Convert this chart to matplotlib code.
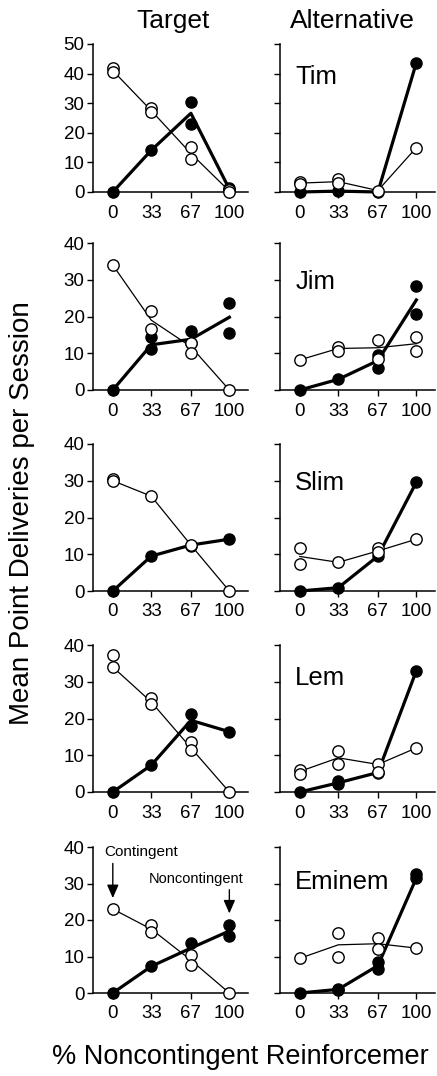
import matplotlib
matplotlib.use("Agg")
import matplotlib.pyplot as plt

plt.rcParams['font.family'] = ['Liberation Sans', 'DejaVu Sans']

# x positions (% noncontingent reinforcement)
pct = [0, 33, 67, 100]
names = ['Tim', 'Jim', 'Slim', 'Lem', 'Eminem']
ytops = [50, 40, 40, 40, 40]

# ---- Target panels ----
# open circles: individual points (x, y) and mean line
tgt_open_x = [
    [0, 0, 33, 33, 67, 67, 100, 100],
    [0, 33, 33, 67, 67, 100],
    [0, 0, 33, 67, 100],
    [0, 0, 33, 33, 67, 67, 100],
    [0, 33, 33, 67, 67, 100],
]
tgt_open_y = [
    [42, 40.5, 28.3, 27, 15.3, 11.3, 0.6, 0],
    [34, 21.5, 16.6, 12.7, 10.2, 0],
    [30.5, 30, 25.8, 12.5, 0],
    [37.2, 34, 25.5, 24, 13.6, 11.4, 0],
    [22.9, 18.5, 16.7, 10.4, 7.6, 0],
]
tgt_open_line = [
    [41, 27.5, 13, 0.3],
    [34, 19, 11.8, 0],
    [30, 25.8, 12.5, 0],
    [34, 24.5, 12, 0],
    [23, 17.5, 9, 0],
]
tgt_fill_x = [
    [0, 33, 67, 67, 100, 100],
    [0, 33, 33, 67, 67, 100, 100],
    [0, 33, 67, 100],
    [0, 33, 67, 67, 100],
    [0, 33, 67, 100, 100],
]
tgt_fill_y = [
    [0, 14.1, 30.3, 22.9, 1.5, 0.8],
    [0, 14.3, 11.1, 16.1, 12.9, 23.6, 15.6],
    [0, 9.5, 12.3, 14.1],
    [0, 7.3, 21.2, 17.9, 16.4],
    [0, 7.3, 13.8, 18.6, 15.6],
]
tgt_fill_line = [
    [0, 14.1, 26.6, 1],
    [0, 12.3, 13.8, 19.8],
    [0, 9.5, 12.5, 14.1],
    [0, 7.3, 19.5, 16.4],
    [0, 7.3, 12.3, 17],
]

# ---- Alternative panels ----
alt_open_x = [
    [0, 0, 33, 33, 67, 100],
    [0, 33, 33, 67, 67, 100, 100],
    [0, 0, 33, 67, 67, 100],
    [0, 0, 33, 33, 67, 67, 100],
    [0, 33, 33, 67, 67, 100],
]
alt_open_y = [
    [3.5, 2.8, 4.3, 2.9, 0.5, 15],
    [8.2, 11.8, 10.7, 13.7, 8.4, 14.4, 10.7],
    [11.8, 7.3, 7.8, 11.6, 10.6, 14.1],
    [5.9, 4.8, 11.2, 7.5, 7.5, 5.5, 12],
    [9.5, 16.4, 10, 15, 12.1, 12.3],
]
alt_open_line = [
    [3, 3.5, 0.5, 15],
    [8.2, 11.3, 11.5, 12.6],
    [9.4, 7.8, 10.9, 14.1],
    [5.6, 9.3, 7.5, 12],
    [9.5, 13.2, 13.5, 12.3],
]
alt_fill_x = [
    [0, 33, 67, 100],
    [0, 33, 67, 67, 100, 100],
    [0, 33, 67, 100],
    [0, 33, 33, 67, 100],
    [0, 33, 33, 67, 67, 100, 100],
]
alt_fill_y = [
    [0, 0.4, 0, 43.7],
    [0, 2.9, 9.6, 6.1, 28.2, 20.6],
    [0, 0.9, 9.5, 29.6],
    [0, 3, 2.1, 5.3, 33],
    [0, 1.2, 0.8, 8.5, 6.5, 32.5, 31.4],
]
alt_fill_line = [
    [0, 0.3, 0, 43.7],
    [0, 2.9, 8, 24.5],
    [0, 0.9, 9.5, 29.6],
    [0, 2.5, 5.3, 33],
    [0, 1, 7.5, 31.5],
]
name_ypos = [0.777, 0.735, 0.735, 0.776, 0.76]

W, H = 437, 1076
fig = plt.figure(figsize=(W / 100, H / 100), dpi=100)

row_bottoms = [192, 390, 591, 792, 993]
row_tops = [44, 243, 444, 645, 847]
col_lefts = [93, 280]
ax_w = 155


def draw_panel(ax, ox, oy, oline, fx, fy, fline, ytop, show_ylabels):
    ax.plot(pct, oline, color='black', lw=0.9, zorder=2, clip_on=False)
    ax.plot(pct, fline, color='black', lw=2.3, zorder=2, clip_on=False)
    ax.plot(fx, fy, 'o', color='black', ms=8, zorder=3, clip_on=False)
    ax.plot(ox, oy, 'o', mfc='white', mec='black', mew=1.0, ms=8.2,
            zorder=4, clip_on=False)
    ax.set_xlim(-17, 116)
    ax.set_ylim(0, ytop)
    ax.set_xticks(pct)
    ax.set_xticklabels(['0', '33', '67', '100'])
    ax.set_yticks(range(0, ytop + 1, 10))
    if not show_ylabels:
        ax.set_yticklabels([])
    ax.spines['top'].set_visible(False)
    ax.spines['right'].set_visible(False)
    ax.spines['left'].set_linewidth(1.1)
    ax.spines['bottom'].set_linewidth(1.1)
    ax.tick_params(axis='both', direction='out', length=4, width=1,
                   labelsize=13.5)
    ax.tick_params(axis='x', pad=5)
    ax.tick_params(axis='y', pad=2)


for r in range(5):
    b = 1 - row_bottoms[r] / H
    h = (row_bottoms[r] - row_tops[r]) / H
    ax_t = fig.add_axes([col_lefts[0] / W, b, ax_w / W, h])
    draw_panel(ax_t, tgt_open_x[r], tgt_open_y[r], tgt_open_line[r],
               tgt_fill_x[r], tgt_fill_y[r], tgt_fill_line[r], ytops[r], True)
    ax_a = fig.add_axes([col_lefts[1] / W, b, ax_w / W, h])
    draw_panel(ax_a, alt_open_x[r], alt_open_y[r], alt_open_line[r],
               alt_fill_x[r], alt_fill_y[r], alt_fill_line[r], ytops[r], False)
    ax_a.text(0.098, name_ypos[r], names[r], transform=ax_a.transAxes,
              fontsize=18.5, va='center', ha='left')
    if r == 4:
        ax_t.annotate('', xy=(0, 26), xytext=(0, 35.5),
                      arrowprops=dict(arrowstyle='-|>,head_length=0.8,head_width=0.35',
                                      color='black', lw=1, shrinkA=0, shrinkB=0))
        ax_t.text(24, 38.6, 'Contingent', fontsize=11, ha='center', va='center')
        ax_t.annotate('', xy=(100, 21.8), xytext=(100, 28.3),
                      arrowprops=dict(arrowstyle='-|>,head_length=0.8,head_width=0.35',
                                      color='black', lw=1, shrinkA=0, shrinkB=0),
                      annotation_clip=False)
        ax_t.text(71.5, 31.2, 'Noncontingent', fontsize=10.5, ha='center',
                  va='center')

fig.text(173 / W, 1 - 21 / H, 'Target', fontsize=19, ha='center', va='center')
fig.text(352 / W, 1 - 21 / H, 'Alternative', fontsize=19, ha='center', va='center')
fig.text(22 / W, 1 - 513 / H, 'Mean Point Deliveries per Session', fontsize=20,
         rotation=90, ha='center', va='center')
# the reference cuts this label at the right edge; keep the visible part
fig.text(52 / W, 1 - 1057 / H, '% Noncontingent Reinforcemer', fontsize=19.5,
         ha='left', va='center')

fig.savefig('out.png', dpi=100)
